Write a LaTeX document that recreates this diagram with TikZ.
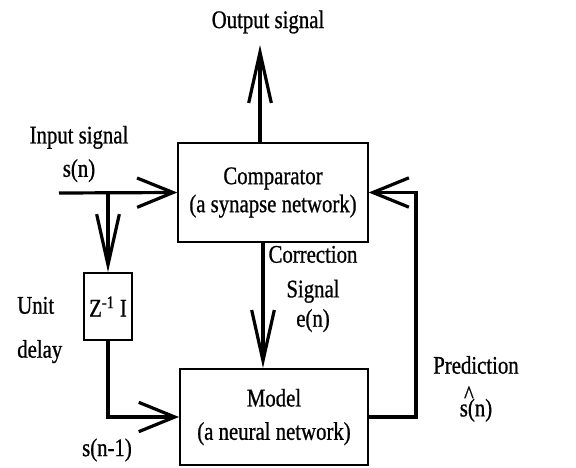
\documentclass[tikz,border=0pt]{standalone}
\usepackage{fontspec}
\setmainfont{Liberation Serif}[FakeStretch=0.82,FakeBold=0.8]
\usepackage{tikz}
\usetikzlibrary{arrows.meta,positioning,calc}

\tikzset{
  block/.style={draw,line width=1.5pt,align=center,inner sep=0pt},
  lbl/.style={align=center,inner sep=0pt},
  harrow/.style={line width=2.4pt,-{Straight Barb[length=27pt,width=22pt]}},
  varrow/.style={line width=2.4pt,-{Straight Barb[length=38pt,width=17pt]}}
}

\begin{document}
\begin{tikzpicture}[x=0.75pt,y=-0.75pt,font=\fontsize{19}{23}\selectfont]
  \useasboundingbox (0,0) rectangle (576,468);
  % boxes
  \node[block,minimum width=142pt,minimum height=74pt] (comp) at (273,192.5) {Comparator\\[-2pt](a synapse network)};
  \node[block,minimum width=141pt,minimum height=72pt] (model) at (274,417) {Model\\[2pt](a neural network)};
  \node[block,minimum width=36pt,minimum height=50pt] (zbox) at (108,306.5) {Z\textsuperscript{-1} I};
  \coordinate (in) at (59,193);
  \coordinate (br) at (108,193);
  \coordinate (out) at (260,45);
  % connectors
  \draw[harrow] (in) -- (comp.west);
  \draw[varrow] (br) -- (zbox.north);
  \draw[harrow] (zbox.south) |- (model.west);
  \draw[varrow] (out |- comp.north) -- (out);
  \draw[varrow] ($(comp.south)+(-10,0)$) -- ($(model.north)+(-11,0)$);
  \draw[harrow] (model.east) -- ++(47,0) |- (comp.east);
  % labels
  \node[lbl] (outlbl) at (268,22) {Output signal};
  \node[lbl] (inlbl) at (79,154) {Input signal\\[2pt]s(n)};
  \node[lbl,align=left,anchor=west] (delay) at (17,330) {Unit\\[10pt]delay};
  \node[lbl] (corr) at (313,289) {Correction\\[3pt]Signal\\[-1pt]e(n)};
  \node[lbl] (pred) at (476,365) {Prediction};
  \node[lbl,below=9pt of pred] (shat) {\rlap{\raisebox{10pt}{\,\^{}}}s(n)};
  \node[lbl] (snm1) at (107,450) {s(n-1)};
\end{tikzpicture}
\end{document}
